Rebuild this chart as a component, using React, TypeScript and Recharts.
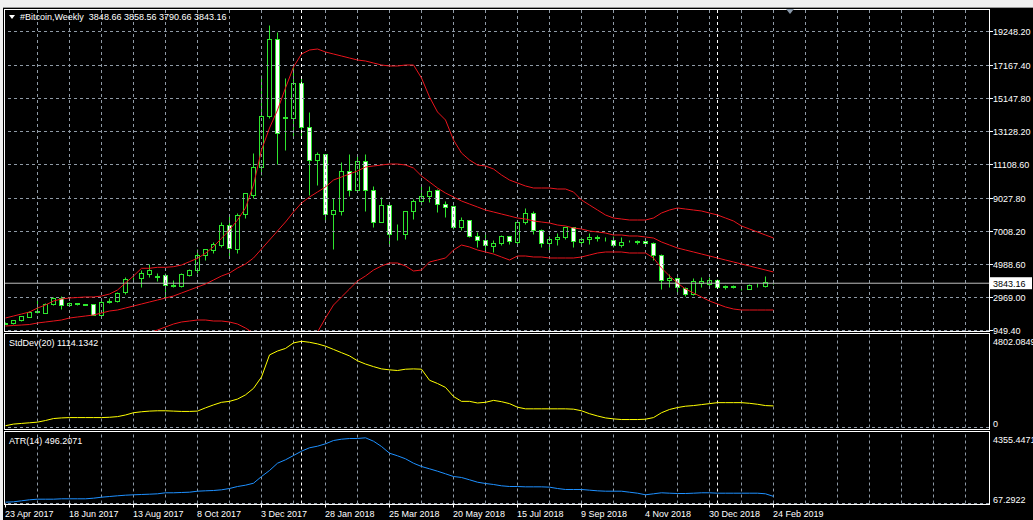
import { ComposedChart, Bar, Line, XAxis, YAxis, ReferenceLine } from 'recharts';

// weekly candles, 23 Apr 2017 .. 24 Feb 2019
const open = [
  1360, 1390, 1590, 1800, 2070, 2040, 2550, 2920, 2500, 2610,
  2560, 2550, 1900, 2720, 2770, 3330, 4080, 4140, 4400, 4280,
  4350, 3730, 3690, 4350, 4650, 5550, 5880, 6180, 7410, 5920,
  8080, 9240, 10970, 14080, 18770, 13950, 13980, 16080, 13390, 11380,
  11750, 8080, 8290, 10740, 9560, 11350, 9520, 7580, 8600, 6860,
  6860, 8250, 8900, 9210, 9520, 8700, 8540, 7270, 7720, 6760,
  6500, 6150, 6290, 6740, 6350, 7560, 8130, 7070, 6290, 6560,
  6660, 7270, 6370, 6520, 6600, 6560, 6500, 6210, 6410, 6400,
  6410, 6290, 5540, 4050, 4170, 3560, 3190, 3850, 3800, 4050,
  3640, 3650, 3570, 3500, 3720, 3700, 3848.66,
];
const high = [
  1440, 1610, 1860, 2160, 2950, 2620, 2980, 3060, 2700, 2660,
  2600, 2600, 2950, 2920, 3300, 4240, 4200, 4650, 5020, 4490,
  4450, 4040, 4450, 4700, 5920, 5950, 6380, 7610, 8020, 8160,
  9380, 11790, 16590, 19650, 19240, 16420, 17200, 16380, 14300, 11890,
  11760, 9040, 11250, 11760, 11760, 11760, 9820, 9110, 8600, 7480,
  8250, 9010, 9920, 9820, 9620, 8900, 8600, 7880, 7720, 6970,
  6860, 6460, 6820, 6760, 7560, 8460, 8290, 7170, 6760, 6900,
  7310, 7310, 6660, 6900, 6780, 6660, 6740, 6700, 6460, 6500,
  6460, 6350, 5640, 4420, 4250, 3600, 4170, 4210, 4210, 4110,
  3760, 3720, 3680, 3800, 3850, 4290, 3858.56,
];
const low = [
  1340, 1370, 1560, 1790, 2000, 2000, 2500, 2290, 2440, 2520,
  2500, 1880, 1850, 2610, 2700, 3180, 3950, 3630, 4240, 3950,
  3020, 3630, 3600, 4300, 4450, 5260, 5670, 6080, 5470, 5710,
  7820, 9040, 10470, 13930, 11140, 12000, 12770, 12810, 9240, 9850,
  7610, 5920, 7990, 9210, 9410, 8290, 7270, 7580, 6150, 6500,
  6560, 7780, 8600, 8800, 8190, 7880, 7170, 7070, 6660, 6090,
  5840, 5740, 6210, 6250, 6150, 7440, 6860, 6050, 5740, 6210,
  6560, 6050, 6150, 6250, 6400, 6420, 6090, 6090, 6350, 6250,
  6210, 5270, 3500, 3600, 3190, 3090, 3150, 3600, 3600, 3560,
  3500, 3560, 3400, 3460, 3600, 3640, 3790.66,
];
const close = [
  1400, 1590, 1837, 2080, 2120, 2570, 2920, 2510, 2610, 2560,
  2540, 1900, 2710, 2770, 3230, 4080, 4120, 4450, 4650, 4240,
  3730, 3700, 4400, 4650, 5550, 5920, 6240, 7410, 5980, 8020,
  9350, 10970, 14080, 18770, 13060, 14000, 16080, 13390, 11380, 11750,
  8080, 8320, 10740, 9560, 11350, 9560, 7580, 8600, 6860, 6880,
  8250, 8900, 9210, 9470, 8700, 8500, 7270, 7740, 6760, 6500,
  6210, 6310, 6740, 6420, 7560, 8130, 7070, 6290, 6560, 6700,
  7270, 6420, 6520, 6700, 6680, 6570, 6210, 6390, 6420, 6390,
  6290, 5540, 4050, 4170, 3600, 3190, 3970, 3970, 4050, 3600,
  3650, 3640, 3550, 3720, 3760, 3930, 3843.16,
];

// Bollinger bands (20)
const bbUpper = [
  1714, 1837, 1959, 2082, 2326, 2510, 2755, 2877, 2938, 2969,
  3000, 3000, 3061, 3183, 3428, 3856, 4285, 4756, 4756, 4817,
  4817, 4854, 4958, 5160, 5368, 5674, 6078, 6592, 7100, 7712,
  8446, 9854, 11996, 13342, 14444, 15790, 17076, 17871, 18116, 18177,
  17994, 17871, 17749, 17626, 17504, 17443, 17320, 17198, 17137, 17137,
  17198, 17198, 16402, 15240, 14322, 13832, 12608, 11812, 11384, 11078,
  11017, 10833, 10466, 10160, 9976, 9793, 9670, 9670, 9670, 9609,
  9609, 9426, 8936, 8630, 8324, 8018, 7834, 7773, 7712, 7712,
  7712, 7834, 8140, 8324, 8446, 8385, 8324, 8263, 8140, 8018,
  7834, 7650, 7345, 7161, 6978, 6794, 6610,
];
const bbMiddle = [
  1225, 1256, 1286, 1317, 1409, 1470, 1531, 1592, 1714, 1776,
  1837, 1898, 2020, 2143, 2204, 2326, 2449, 2571, 2694, 2816,
  2938, 3061, 3244, 3428, 3612, 3795, 4040, 4285, 4468, 4774,
  5019, 5386, 5937, 6488, 7039, 7590, 8202, 8752, 9120, 9426,
  9732, 10160, 10344, 10528, 10711, 10956, 11017, 11078, 11139, 11139,
  11078, 10894, 10405, 10038, 9670, 9364, 9120, 8875, 8691, 8508,
  8324, 8202, 8079, 7957, 7834, 7773, 7650, 7590, 7528, 7406,
  7345, 7222, 7161, 7039, 6978, 6916, 6794, 6794, 6733, 6733,
  6672, 6610, 6366, 6182, 5998, 5876, 5754, 5631, 5509, 5386,
  5264, 5142, 5019, 4897, 4774, 4652, 4530,
];
const bbLower = [
  700, 690, 680, 670, 650, 620, 600, 580, 560, 540,
  520, 500, 480, 470, 460, 450, 300, 500, 800, 980,
  1162, 1347, 1470, 1531, 1592, 1592, 1531, 1531, 1470, 1347,
  1102, 796, -856, -2080, -2692, -2998, -2692, -1774, -244, 858,
  1714, 2510, 3000, 3489, 3979, 4285, 4652, 4897, 5080, 5080,
  4897, 4591, 4652, 5142, 5264, 5386, 5876, 6182, 6060, 5876,
  5754, 5631, 5448, 5264, 5509, 5509, 5448, 5448, 5386, 5386,
  5386, 5386, 5448, 5570, 5692, 5754, 5754, 5754, 5692, 5692,
  5692, 5386, 4774, 4285, 3856, 3489, 3244, 2999, 2755, 2571,
  2388, 2265, 2204, 2204, 2204, 2204, 2204,
];

const stdDev = [
  92, 176, 210, 243, 277, 361, 462, 495, 512, 512,
  512, 512, 512, 528, 562, 646, 763, 813, 847, 864,
  864, 847, 830, 830, 847, 1015, 1166, 1300, 1350, 1468,
  1685, 2020, 2608, 3747, 3949, 4083, 4368, 4452, 4401, 4318,
  4200, 4032, 3864, 3697, 3445, 3277, 3144, 3026, 2977, 2943,
  3010, 3026, 3010, 2440, 2272, 2071, 1602, 1350, 1350, 1266,
  1300, 1400, 1333, 1232, 1048, 964, 964, 964, 964, 964,
  964, 947, 864, 713, 595, 495, 445, 411, 411, 411,
  428, 512, 763, 931, 1031, 1099, 1132, 1182, 1232, 1283,
  1283, 1283, 1283, 1249, 1199, 1132, 1114.1342,
];
const atr = [
  146, 170, 230, 291, 327, 327, 327, 351, 351, 351,
  351, 388, 448, 490, 532, 569, 593, 611, 629, 653,
  714, 714, 732, 750, 810, 834, 852, 894, 973, 1094,
  1173, 1293, 1698, 2060, 2501, 2707, 2966, 3226, 3432, 3528,
  3673, 3872, 3951, 3993, 3993, 4035, 3830, 3510, 3105, 2948,
  2767, 2501, 2302, 2163, 2018, 1861, 1698, 1638, 1499, 1354,
  1275, 1215, 1136, 1094, 1094, 1074, 1074, 1074, 1054, 973,
  913, 913, 913, 873, 833, 810, 810, 810, 750, 690,
  593, 653, 714, 690, 671, 671, 690, 714, 714, 690,
  690, 690, 690, 690, 690, 653, 496.2071,
];

const dateLabels = [
  '23 Apr 2017', '18 Jun 2017', '13 Aug 2017', '8 Oct 2017', '3 Dec 2017',
  '28 Jan 2018', '25 Mar 2018', '20 May 2018', '15 Jul 2018', '9 Sep 2018',
  '4 Nov 2018', '30 Dec 2018', '24 Feb 2019',
];
const labelBars = [0, 8, 16, 24, 32, 40, 48, 56, 64, 72, 80, 88, 96];
const gridBars = [
  4, 8, 12, 16, 20, 24, 28, 32, 36, 40, 44, 48, 52, 56, 60, 64, 68, 72, 76, 80,
  84, 88, 92, 96, 100, 104, 108, 112, 116, 120,
];
const yearSeparators = [37, 89];
const priceTicks = [949.4, 2969.0, 4988.6, 7008.2, 9027.8, 11108.6, 13128.2, 15147.8, 17167.4, 19248.2];
const sdAxis = [0, 4802.0849];
const sdAxisText = ['0', '4802.0849'];
const atrAxis = [67.2922, 4355.4471];
const atrAxisText = ['67.2922', '4355.4471'];

const lastClose = close[close.length - 1];

const data = open.map((o, i) => ({
  i,
  open: o,
  high: high[i],
  low: low[i],
  close: close[i],
  upper: bbUpper[i],
  middle: bbMiddle[i],
  lower: bbLower[i],
  sd: stdDev[i],
  atr: atr[i],
}));

const W = 1033;
const X_DOMAIN: [number, number] = [-0.0625, 122.9375];
const FONT = '"Liberation Sans", Arial, sans-serif';
const GRID = '#8f9aa6';
const CANDLE = '#2ee62e';
const BAND = '#e8141c';

function Candle(props: any) {
  const { x, y, width, height, payload } = props;
  if (x == null || !payload) return null;
  const { open: o, high: h, low: l, close: c } = payload;
  const top = Math.min(y, y + height);
  const span = Math.abs(height);
  const py = (v: number) => (h === l ? top : top + ((h - v) / (h - l)) * span);
  const snap = (v: number) => Math.round(v) + 0.5;
  const cx = Math.floor(x + width / 2) + 0.5;
  const yHi = snap(py(h));
  const yLo = snap(py(l));
  const yTop = snap(py(Math.max(o, c)));
  const yBot = snap(py(Math.min(o, c)));
  const bear = c < o;
  return (
    <g>
      <line x1={cx} x2={cx} y1={yHi} y2={yLo} stroke={CANDLE} />
      <rect
        x={cx - 2}
        y={yTop}
        width={4}
        height={Math.max(yBot - yTop, 0)}
        fill={bear ? '#ffffff' : '#000000'}
        stroke={CANDLE}
      />
    </g>
  );
}

function PriceTick(props: any) {
  const { x, y, payload } = props;
  const v = payload.value as number;
  if (v === lastClose) {
    return (
      <g>
        <rect x={x - 3} y={y - 6} width={42} height={12} fill="#ffffff" />
        <text x={x} y={y + 3.5} fill="#000" fontSize={9} fontFamily={FONT}>
          {v.toFixed(2)}
        </text>
      </g>
    );
  }
  return (
    <text x={x} y={y + 3.5} fill="#fff" fontSize={9} fontFamily={FONT}>
      {v.toFixed(2)}
    </text>
  );
}

function makeSubTick(values: number[], texts: string[]) {
  return (props: any) => {
    const { x, y, payload } = props;
    const idx = values.indexOf(payload.value);
    const isTop = idx === values.length - 1;
    return (
      <text x={x} y={isTop ? y + 10 : y - 1} fill="#fff" fontSize={9} fontFamily={FONT}>
        {texts[idx]}
      </text>
    );
  };
}

function DateTick(props: any) {
  const { x, y, payload } = props;
  const idx = labelBars.indexOf(payload.value);
  return (
    <text x={x - 0.5} y={y + 9} fill="#fff" fontSize={9} fontFamily={FONT}>
      {dateLabels[idx]}
    </text>
  );
}

function verticalGrid() {
  return [
    ...gridBars.map((b) => (
      <ReferenceLine key={'v' + b} x={b} stroke={GRID} strokeDasharray="3 3" />
    )),
    ...yearSeparators.map((b) => (
      <ReferenceLine key={'s' + b} x={b} stroke="#ffffff" strokeDasharray="3 3" />
    )),
  ];
}

const label: React.CSSProperties = {
  position: 'absolute',
  color: '#fff',
  fontFamily: FONT,
  fontSize: 9,
  lineHeight: '11px',
  whiteSpace: 'nowrap',
};

const frame = (top: number, height: number): React.CSSProperties => ({
  position: 'absolute',
  left: 4,
  top,
  width: 986,
  height,
  boxSizing: 'border-box',
  border: '1px solid #ffffff',
  pointerEvents: 'none',
});

export default function App() {
  return (
    <div style={{ position: 'relative', width: W, height: 520, background: '#000', overflow: 'hidden' }}>
      <style>{'body{margin:0;background:#000}'}</style>
      <div style={{ position: 'absolute', left: 0, top: 0, width: W, height: 7, background: '#f0f0f0', borderBottom: '1px solid #9a9a9a' }} />
      <div style={{ position: 'absolute', left: 0, top: 0, width: 3, height: 520, background: '#f0f0f0' }} />

      {/* StdDev(20) pane */}
      <div style={{ position: 'absolute', left: 0, top: 333 }}>
        <ComposedChart width={W} height={95} data={data} margin={{ top: 1.5, right: 0, bottom: 0.5, left: 5 }}>
          <XAxis type="number" dataKey="i" domain={X_DOMAIN} allowDataOverflow hide />
          <YAxis
            orientation="right"
            width={44}
            domain={[sdAxis[0], sdAxis[1]]}
            allowDataOverflow
            ticks={sdAxis}
            interval={0}
            tick={makeSubTick(sdAxis, sdAxisText)}
            tickLine={false}
            tickSize={4}
            tickMargin={0}
            axisLine={false}
          />
          {verticalGrid()}
          <ReferenceLine y={sdAxis[0]} stroke={GRID} strokeDasharray="3 3" />
          <Line dataKey="sd" stroke="#ffff00" strokeWidth={1} dot={false} isAnimationActive={false} />
        </ComposedChart>
      </div>

      {/* ATR(14) pane with the date axis */}
      <div style={{ position: 'absolute', left: 0, top: 431 }}>
        <ComposedChart width={W} height={89} data={data} margin={{ top: 1.5, right: 0, bottom: 0, left: 5 }}>
          <XAxis
            type="number"
            dataKey="i"
            domain={X_DOMAIN}
            allowDataOverflow
            ticks={labelBars}
            interval={0}
            height={16.5}
            tick={(p: any) => <DateTick {...p} />}
            tickLine={{ stroke: '#ffffff' }}
            tickSize={4}
            tickMargin={0}
            axisLine={false}
          />
          <YAxis
            orientation="right"
            width={44}
            domain={[atrAxis[0], atrAxis[1]]}
            allowDataOverflow
            ticks={atrAxis}
            interval={0}
            tick={makeSubTick(atrAxis, atrAxisText)}
            tickLine={false}
            tickSize={4}
            tickMargin={0}
            axisLine={false}
          />
          {verticalGrid()}
          <ReferenceLine y={atrAxis[0]} stroke={GRID} strokeDasharray="3 3" />
          <Line dataKey="atr" stroke="#1e90ff" strokeWidth={1} dot={false} isAnimationActive={false} />
        </ComposedChart>
      </div>

      {/* main pane: candles + Bollinger bands (drawn last so its price labels are not covered) */}
      <div style={{ position: 'absolute', left: 0, top: 0 }}>
        <ComposedChart width={W} height={342} data={data} margin={{ top: 10, right: 0, bottom: 11, left: 5 }}>
          <XAxis type="number" dataKey="i" domain={X_DOMAIN} allowDataOverflow hide />
          <YAxis
            orientation="right"
            width={44}
            domain={[919, 20564]}
            allowDataOverflow
            ticks={[...priceTicks, lastClose]}
            interval={0}
            tick={(p: any) => <PriceTick {...p} />}
            tickLine={{ stroke: '#ffffff' }}
            tickSize={4}
            tickMargin={0}
            axisLine={false}
          />
          {verticalGrid()}
          {priceTicks.map((p) => (
            <ReferenceLine key={'h' + p} y={p} stroke={GRID} strokeDasharray="3 3" />
          ))}
          <ReferenceLine y={lastClose} stroke="#bdbdbd" />
          <Bar
            dataKey={(d: any) => [d.low, d.high]}
            barSize={5}
            shape={(p: any) => <Candle {...p} />}
            isAnimationActive={false}
          />
          <Line dataKey="upper" stroke={BAND} strokeWidth={1} dot={false} isAnimationActive={false} />
          <Line dataKey="middle" stroke={BAND} strokeWidth={1} dot={false} isAnimationActive={false} />
          <Line dataKey="lower" stroke={BAND} strokeWidth={1} dot={false} isAnimationActive={false} />
        </ComposedChart>
      </div>

      <div style={frame(9, 323)} />
      <div style={frame(333, 97)} />
      <div style={frame(431, 74)} />

      <div
        style={{
          position: 'absolute',
          left: 9,
          top: 15,
          width: 0,
          height: 0,
          borderLeft: '3px solid transparent',
          borderRight: '3px solid transparent',
          borderTop: '4px solid #ffffff',
        }}
      />
      <div style={{ ...label, left: 20, top: 12 }}>
        #Bitcoin,Weekly&nbsp;&nbsp;3848.66 3858.56 3790.66 3843.16
      </div>
      <div
        style={{
          position: 'absolute',
          left: 786,
          top: 9,
          width: 0,
          height: 0,
          borderLeft: '4px solid transparent',
          borderRight: '4px solid transparent',
          borderTop: '5px solid #8a99aa',
        }}
      />
      <div style={{ ...label, left: 9, top: 338 }}>StdDev(20) 1114.1342</div>
      <div style={{ ...label, left: 9, top: 436 }}>ATR(14) 496.2071</div>
    </div>
  );
}
